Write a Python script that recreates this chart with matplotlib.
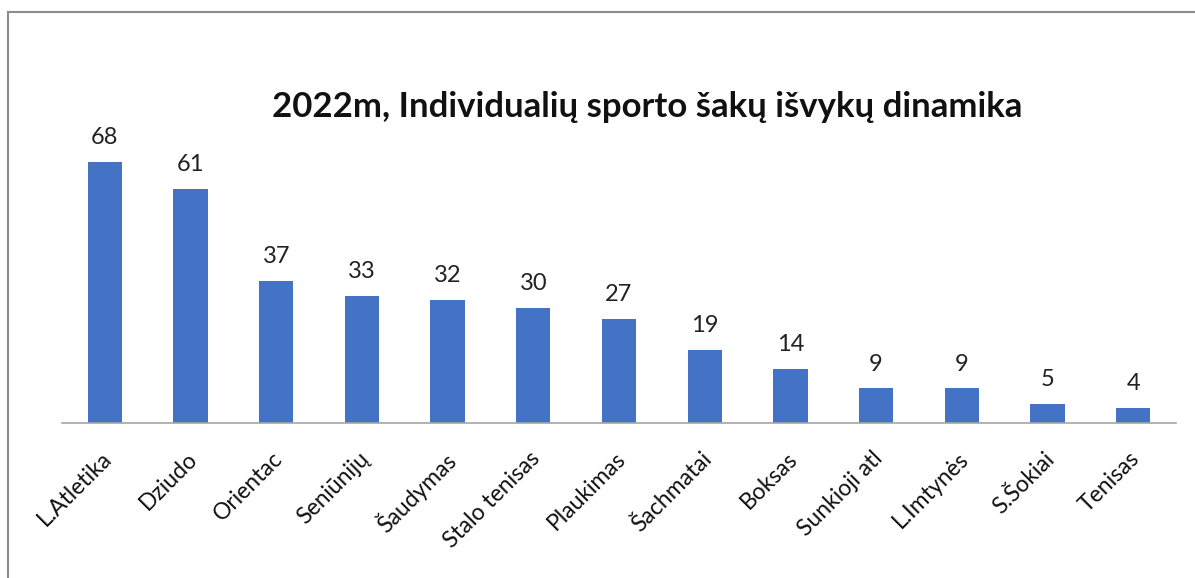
import matplotlib
matplotlib.use("Agg")
import matplotlib.pyplot as plt
from matplotlib.lines import Line2D
import matplotlib.transforms as mtransforms

categories = ["L.Atletika", "Dziudo", "Orientac", "Seniūnijų", "Šaudymas",
              "Stalo tenisas", "Plaukimas", "Šachmatai", "Boksas",
              "Sunkioji atl", "L.Imtynės", "S.Šokiai", "Tenisas"]
values = [68, 61, 37, 33, 32, 30, 27, 19, 14, 9, 9, 5, 4]
title = "2022m, Individualių sporto šakų išvykų dinamika"

plt.rcParams['font.family'] = ['Lato', 'DejaVu Sans']

W, H = 1195, 578
fig = plt.figure(figsize=(W / 100, H / 100), dpi=100)
fig.patch.set_facecolor("white")

ax = fig.add_axes([62 / W, 1 - 423 / H, 1114 / W, 307.4 / H])
x = list(range(len(categories)))
ax.bar(x, values, width=0.4, color="#4472C4", zorder=2)
ax.set_xlim(-0.5, len(categories) - 0.5)
ax.set_ylim(0, 80)

for xi, v in zip(x, values):
    ax.annotate(str(v), (xi, v), xytext=(0, 10), textcoords="offset points",
                ha="center", va="bottom", fontsize=17, color="#222222")

# category labels, rotated 45 degrees below the axis
ax.set_xticks(x)
ax.set_xticklabels([])
ax.tick_params(axis="x", length=0)
label_trans = ax.get_xaxis_transform() + mtransforms.ScaledTranslation(
    -4 / 100, -25 / 100, fig.dpi_scale_trans)
for xi, cat in zip(x, categories):
    ax.text(xi, 0, cat, transform=label_trans, rotation=45, ha="right",
            va="top", rotation_mode="anchor", fontsize=16.5, color="#111111")

ax.tick_params(axis="y", left=False, labelleft=False)
for s in ["top", "right", "left"]:
    ax.spines[s].set_visible(False)
ax.spines["bottom"].set_color("#A6A6A6")
ax.spines["bottom"].set_linewidth(1.2)
ax.patch.set_alpha(0)

fig.text(647 / W, 1 - 107 / H, title, ha="center", va="center",
         fontsize=25, fontweight="bold", color="#111111")

# outer border lines (top and left)
fig.add_artist(Line2D([8 / W, 1], [1 - 12 / H, 1 - 12 / H], color="#8C8C8C", lw=1.5))
fig.add_artist(Line2D([8 / W, 8 / W], [0, 1 - 12 / H], color="#8C8C8C", lw=1.5))

fig.savefig("out.png", dpi=100)
